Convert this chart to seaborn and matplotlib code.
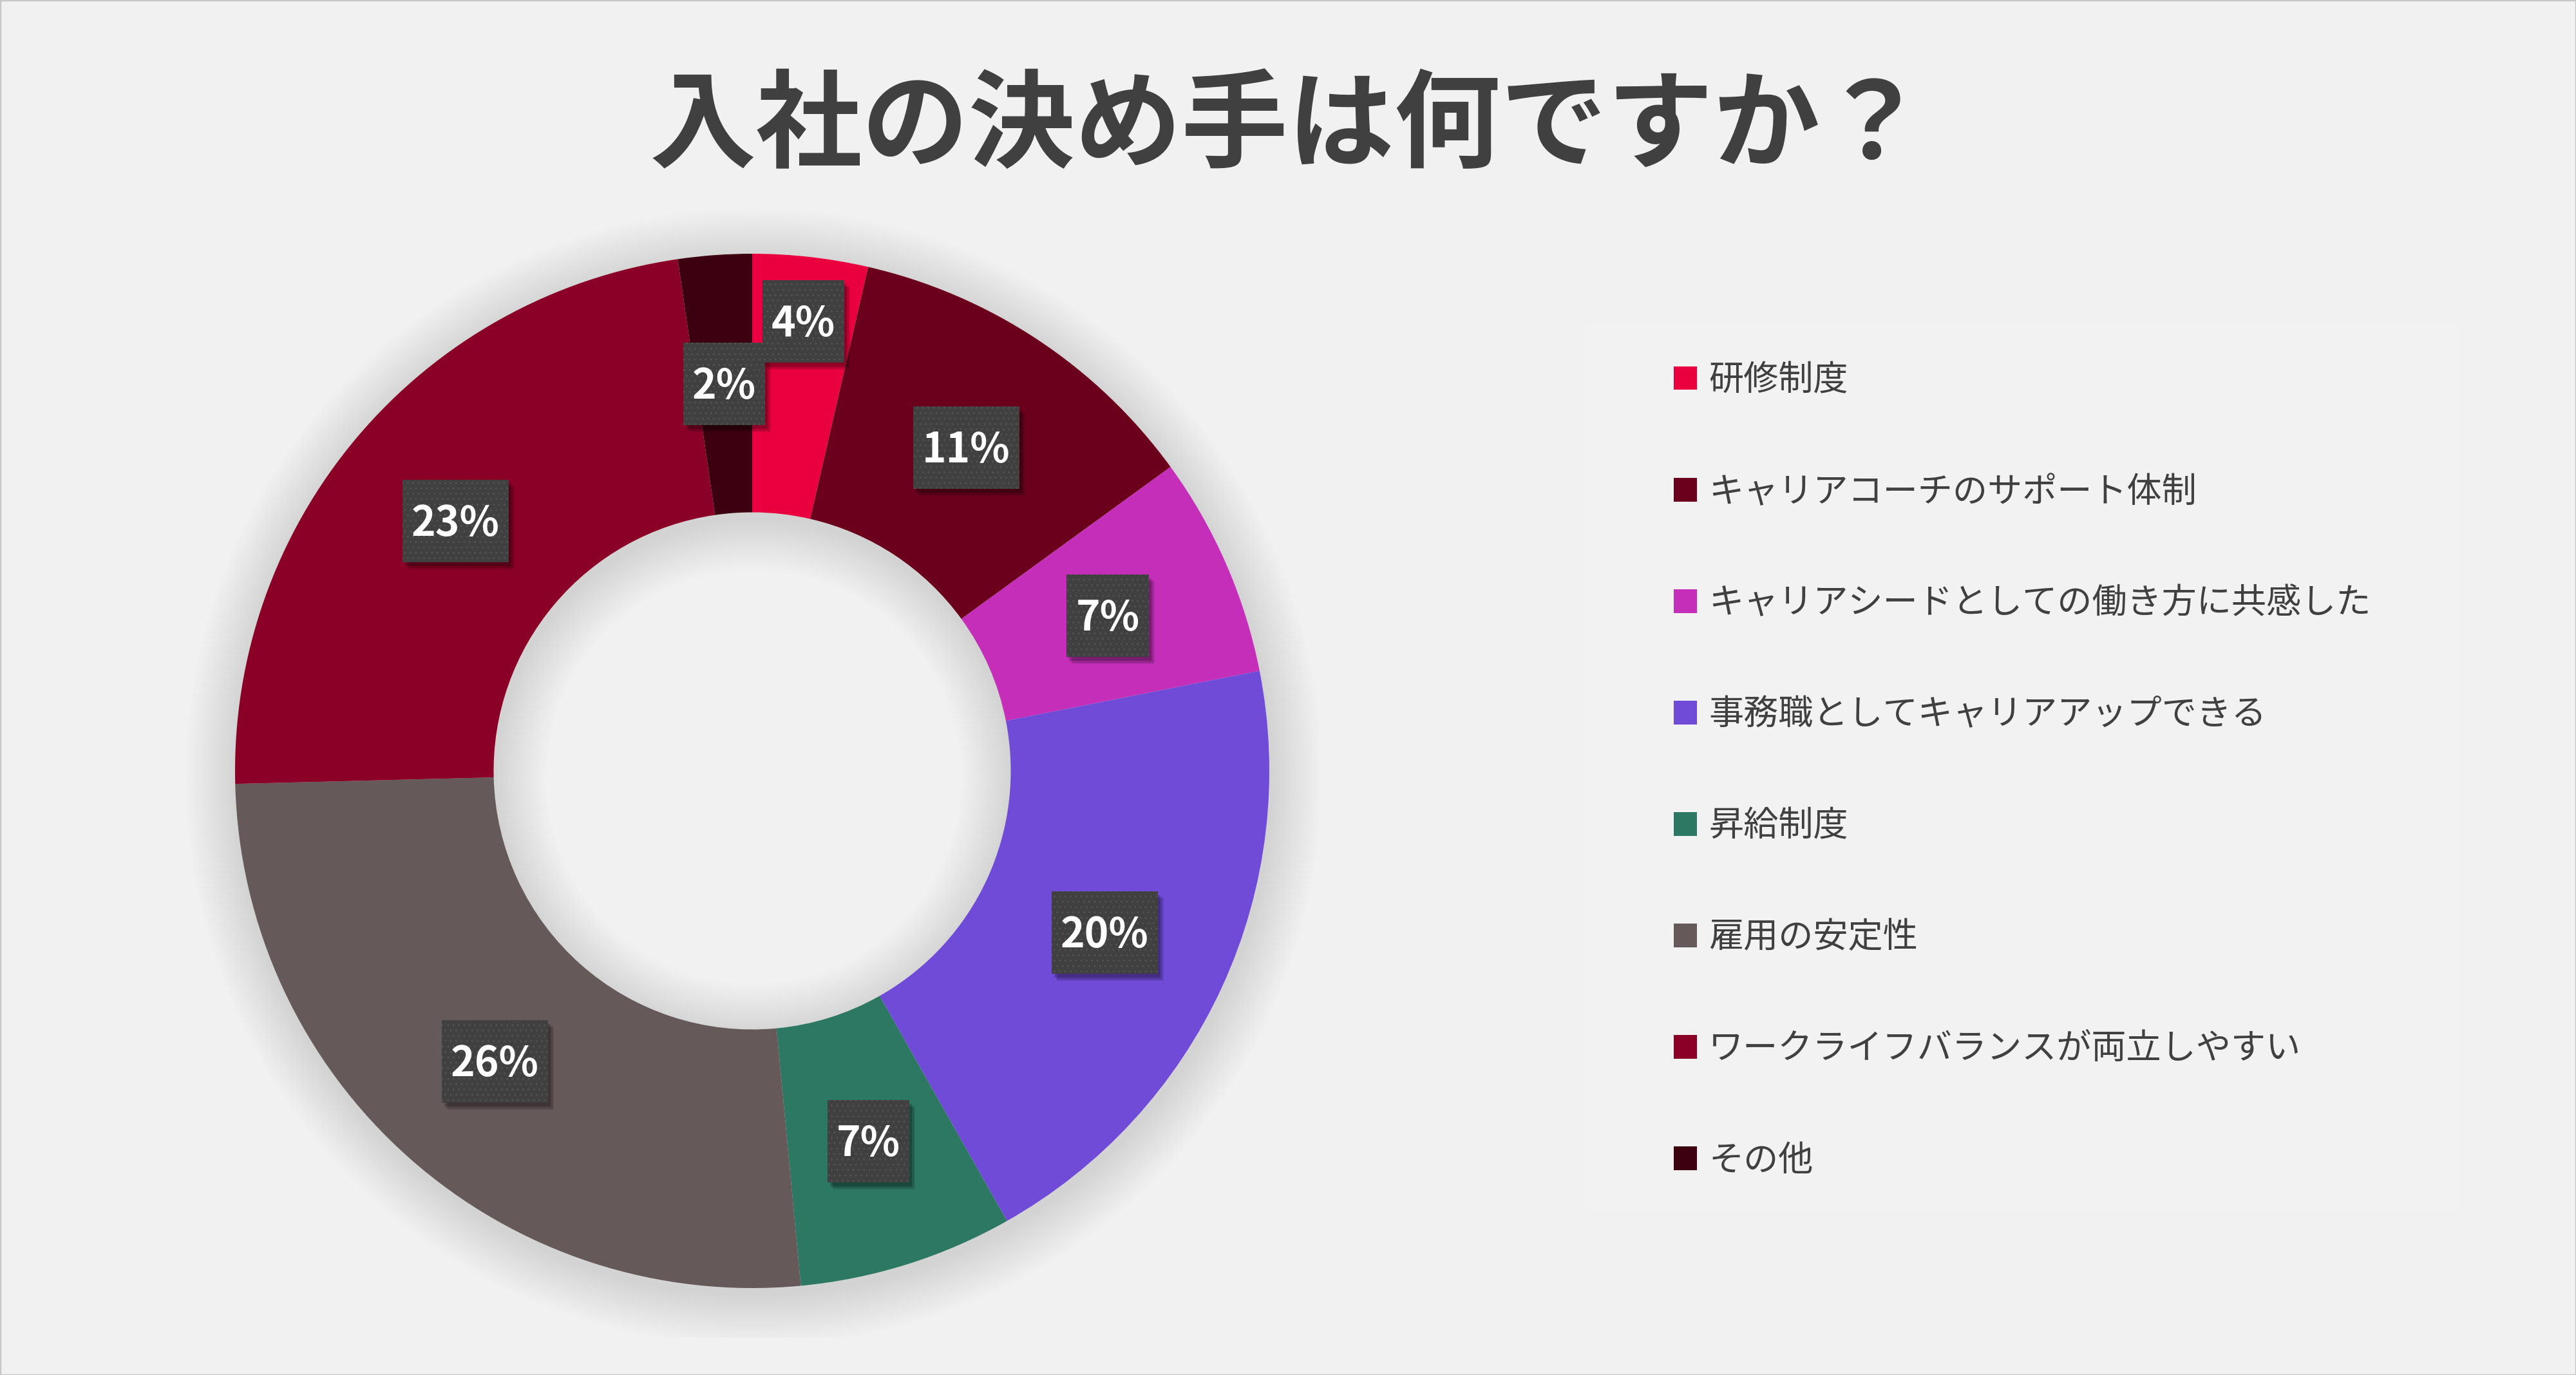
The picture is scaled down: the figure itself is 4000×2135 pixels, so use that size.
import numpy as np
import matplotlib
matplotlib.use("Agg")
import matplotlib.pyplot as plt
import matplotlib.transforms as mtransforms
import seaborn as sns
from matplotlib.patches import Wedge, Rectangle

# ---------------- data ----------------
title = "入社の決め手は何ですか？"
categories = [
    "研修制度",
    "キャリアコーチのサポート体制",
    "キャリアシードとしての働き方に共感した",
    "事務職としてキャリアアップできる",
    "昇給制度",
    "雇用の安定性",
    "ワークライフバランスが両立しやすい",
    "その他",
]
shares = [3.6, 11.4, 6.9, 19.9, 6.7, 26.1, 23.1, 2.3]
colors = ["#EA003F", "#6B001C", "#C42EB8", "#704BD8",
          "#2C7862", "#655959", "#8B0027", "#3D0010"]

# ---------------- style ----------------
sns.set_theme(style="white")
plt.rcParams['font.family'] = ['Noto Sans CJK JP', 'DejaVu Sans']
BG = "#F1F1F1"
TXT = "#404040"

W, H, DPI = 4000, 2135, 100
fig = plt.figure(figsize=(W / DPI, H / DPI), dpi=DPI, facecolor=BG)

# frame border
fig.patches.append(Rectangle((0, 0), 1, 1, transform=fig.transFigure,
                             facecolor="none", edgecolor="#C8C8C8", lw=2.5))

# faint legend panel
lx0, ly0, lx1, ly1 = 2461, 502, 3818, 1880
fig.patches.append(Rectangle((lx0 / W, 1 - ly1 / H), (lx1 - lx0) / W, (ly1 - ly0) / H,
                             transform=fig.transFigure, facecolor="#F2F2F2",
                             edgecolor="none", zorder=0))

# donut axes
cx, cy, R = 1168, 1197, 803
half = 880
ax = fig.add_axes([(cx - half) / W, (H - cy - half) / H, 2 * half / W, 2 * half / H])
ax.set_facecolor("none")
HOLE = 0.5

# soft drop shadow
n = 30
for i in range(n):
    s = 0.10 * (i + 1) / n
    ax.add_patch(Wedge((0.003, -0.012), 1 + s, 0, 360, width=(1 - HOLE) + 2 * s,
                       facecolor="black", alpha=0.0055, lw=0, zorder=0))

wedges, _ = ax.pie(shares, colors=colors, startangle=90, counterclock=False,
                   radius=1, wedgeprops=dict(width=1 - HOLE, linewidth=0))
for w in wedges:
    w.set_zorder(2)

L = half / R
ax.set_xlim(-L, L)
ax.set_ylim(-L, L)
ax.set_aspect('equal')
ax.axis('off')

# ---------------- labels ----------------
label_radius = {0: 0.875}
LABEL_FS = 46
em_px = LABEL_FS * DPI / 72
renderer = fig.canvas.get_renderer()
cum = 0.0
for i, v in enumerate(shares):
    mid = cum + v / 2
    cum += v
    ang = np.deg2rad(90 - 360 * mid / sum(shares))
    r = label_radius.get(i, (1 + HOLE) / 2)
    x, y = r * np.cos(ang), r * np.sin(ang)
    tr = mtransforms.offset_copy(ax.transData, fig=fig, x=0,
                                 y=-0.36 * em_px * 72 / DPI, units='points')
    t = ax.text(x, y, f"{round(v)}%", ha='center', va='baseline', transform=tr,
                fontsize=LABEL_FS, fontweight='bold', color='white',
                family=['Noto Sans CJK JP', 'DejaVu Sans'], zorder=6)
    tw = t.get_window_extent(renderer).width
    bw = (tw + 28) / R
    bh = 128 / R
    # shadow
    for dx, dy, a in [(9, -11, 0.10), (7, -9, 0.14), (4, -6, 0.20)]:
        ax.add_patch(Rectangle((x - bw / 2 + dx / R, y - bh / 2 + dy / R), bw, bh,
                               facecolor="black", alpha=a, lw=0, zorder=4))
    ax.add_patch(Rectangle((x - bw / 2, y - bh / 2), bw, bh, facecolor="#404040",
                           edgecolor="#525252", hatch="..", lw=0, zorder=5))

# ---------------- title ----------------
fig.text(0.5, 1 - 200 / H, title, ha='center', va='center', fontsize=119,
         fontweight='bold', color=TXT)

# ---------------- legend ----------------
leg = fig.legend(wedges, categories, loc='upper left',
                 bbox_to_anchor=(2599 / W, 1 - 563 / H), frameon=False,
                 fontsize=39, labelcolor=TXT, handlelength=0.67, handleheight=0.67,
                 handletextpad=0.33, labelspacing=2.18, borderpad=0, borderaxespad=0)

fig.savefig("out.png", dpi=DPI, facecolor=BG)
